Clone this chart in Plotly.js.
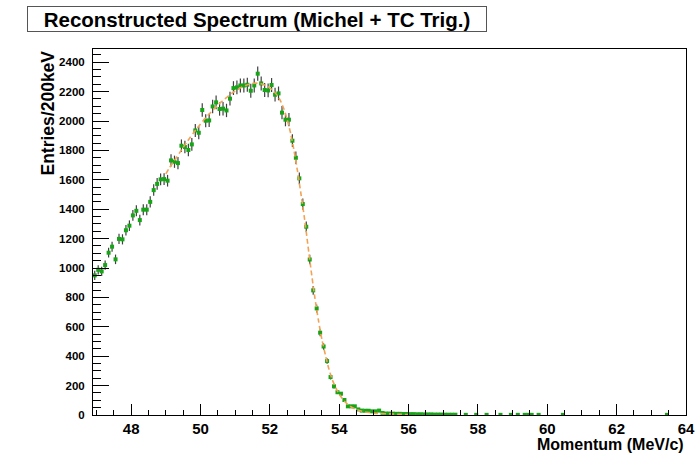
<!DOCTYPE html>
<html>
<head>
<meta charset="utf-8">
<script src="https://cdn.plot.ly/plotly-3.0.1.min.js"></script>
<style>html,body{margin:0;padding:0;background:#fff;}#chart{width:698px;height:454px;}</style>
</head>
<body>
<div id="chart"></div>
<script>
// ---- data (bin centers in MeV/c, entries per bin) ----
const momentum = [
  46.95,47.05,47.15,47.25,47.35,47.45,47.55,47.65,47.75,47.85,
  47.95,48.05,48.15,48.25,48.35,48.45,48.55,48.65,48.75,48.85,
  48.95,49.05,49.15,49.25,49.35,49.45,49.55,49.65,49.75,49.85,
  49.95,50.05,50.15,50.25,50.35,50.45,50.55,50.65,50.75,50.85,
  50.95,51.05,51.15,51.25,51.35,51.45,51.55,51.65,51.75,51.85,
  51.95,52.05,52.15,52.25,52.35,52.45,52.55,52.65,52.75,52.85,
  52.95,53.05,53.15,53.25,53.35,53.45,53.55,53.65,53.75,53.85,
  53.95,54.05,54.15,54.25,54.35,54.45,54.55,54.65,54.75,54.85,
  54.95,55.05,55.15,55.25,55.35,55.45,55.55,55.65,55.75,55.85,
  55.95,56.05,56.15,56.25,56.35,56.45,56.55,56.65,56.75,56.85,
  56.95,57.05,57.15,57.25,57.35
];
const entries = [
  950,988,977,1020,1104,1145,1059,1198,1195,1257,
  1288,1358,1389,1326,1397,1397,1450,1530,1572,1603,
  1605,1594,1732,1723,1714,1832,1823,1803,1841,1936,
  1920,2075,2002,2004,2099,2127,2082,2084,2072,2152,
  2224,2229,2242,2242,2247,2206,2242,2322,2256,2211,
  2208,2245,2179,2188,2057,2009,2009,1866,1750,1610,
  1435,1281,1058,848,725,560,466,367,258,195,
  155,145,102,59,59,59,38,30,29,29,
  25,25,30,14,10,10,9,8,8,7,
  7,6,6,5,5,4,4,4,3,3,
  3,2,2,2,2
];
// sparse tail bins (non-empty only)
const tailMomentum = [57.65,57.95,58.25,58.65,58.95,59.15,59.35,59.45,59.55,59.75,60.45,63.45];
const tailEntries  = [1,1,1,1,1,1,1,1,1,1,1,1];

// fitted curve (dashed)
const fitMomentum = [
  49.0,49.1,49.2,49.3,49.4,49.5,49.6,49.7,49.8,49.9,
  50.0,50.1,50.2,50.3,50.4,50.5,50.6,50.7,50.8,50.9,
  51.0,51.1,51.2,51.3,51.4,51.5,51.6,51.7,51.8,51.9,
  52.0,52.1,52.2,52.3,52.4,52.5,52.6,52.7,52.8,52.9,
  53.0,53.1,53.2,53.3,53.4,53.5,53.6,53.7,53.8,53.9,
  54.0,54.1,54.2,54.3,54.4,54.5,54.6,54.7,54.8,54.9,
  55.0,55.1,55.2,55.3,55.4,55.5,55.6,55.7,55.8,55.9,56.0
];
const fitEntries = [
  1640,1680,1715,1750,1785,1820,1855,1888,1920,1950,
  1980,2008,2035,2060,2085,2108,2130,2150,2170,2188,
  2204,2218,2231,2242,2250,2256,2258,2256,2250,2240,
  2225,2205,2178,2140,2085,2010,1915,1795,1655,1500,
  1335,1150,965,795,645,515,410,315,240,185,
  142,108,82,62,48,37,29,23,19,16,
  13,11,10,9,8,7,6,5,4,3,3
];

const chartTitle = "Reconstructed Spectrum (Michel + TC Trig.)";
const xTitle = "Momentum (MeV/c)";
const yTitle = "Entries/200keV";

// ---- layout geometry (pixels) ----
const W = 698, H = 454;
const M = {l: 93, r: 12, t: 49, b: 39};
const plotW = W - M.l - M.r, plotH = H - M.t - M.b;
const pxX = px => (px - M.l) / plotW;
const pxY = py => (H - M.b - py) / plotH;

const FONT = 'Liberation Sans, Arial, Helvetica, sans-serif';
const green = '#16a516';
const errColor = '#404040';

const pointStyle = {
  type: 'scatter', mode: 'markers',
  marker: {symbol: 'square', size: 4, color: green},
  error_y: {type: 'sqrt', visible: true, color: errColor, thickness: 1.2, width: 0},
  hoverinfo: 'skip', showlegend: false
};

const traces = [
  Object.assign({}, pointStyle, {x: momentum, y: entries}),
  Object.assign({}, pointStyle, {x: tailMomentum, y: tailEntries}),
  {
    type: 'scatter', mode: 'lines', x: fitMomentum, y: fitEntries,
    line: {color: '#f2a254', width: 1.6, dash: '5px,3px', shape: 'spline', smoothing: 0.6},
    hoverinfo: 'skip', showlegend: false
  }
];

const layout = {
  width: W, height: H,
  margin: {l: M.l, r: M.r, t: M.t, b: M.b, pad: 0},
  paper_bgcolor: '#ffffff', plot_bgcolor: '#ffffff',
  showlegend: false,
  xaxis: {
    range: [46.9, 64], showgrid: false, zeroline: false,
    showline: true, mirror: true, linecolor: '#000', linewidth: 1,
    ticks: 'inside', ticklen: 11, tickwidth: 1, tickcolor: '#000',
    tick0: 0, dtick: 2,
    minor: {dtick: 0.5, ticks: 'inside', ticklen: 5.5, tickwidth: 1, tickcolor: '#000', showgrid: false},
    tickfont: {family: FONT, size: 15, color: '#000', weight: 'bold'},
    ticklabelstandoff: 0
  },
  yaxis: {
    range: [0, 2490], showgrid: false, zeroline: false,
    showline: true, mirror: true, linecolor: '#000', linewidth: 1,
    ticks: 'inside', ticklen: 16, tickwidth: 1, tickcolor: '#000',
    tick0: 0, dtick: 200,
    minor: {dtick: 50, ticks: 'inside', ticklen: 8, tickwidth: 1, tickcolor: '#000', showgrid: false},
    tickfont: {family: FONT, size: 11.5, color: '#000', weight: 'bold'},
    ticklabelstandoff: 5
  },
  annotations: [
    {
      text: chartTitle, xref: 'paper', yref: 'paper',
      x: pxX(257), y: pxY(18.5), xanchor: 'center', yanchor: 'middle',
      showarrow: false, width: 458, height: 24, align: 'center', valign: 'middle',
      bgcolor: '#ffffff', bordercolor: '#555', borderwidth: 1, borderpad: 0,
      font: {family: FONT, size: 20.5, color: '#000', weight: 'bold'}
    },
    {
      text: xTitle, xref: 'paper', yref: 'paper',
      x: 1, y: pxY(444.5), xanchor: 'right', yanchor: 'middle', showarrow: false,
      font: {family: FONT, size: 16, color: '#000', weight: 'bold'}
    },
    {
      text: yTitle, xref: 'paper', yref: 'paper', textangle: -90,
      x: pxX(47), y: 1, xanchor: 'center', yanchor: 'top', showarrow: false,
      font: {family: FONT, size: 17.5, color: '#000', weight: 'bold'}
    }
  ]
};

Plotly.newPlot('chart', traces, layout, {displayModeBar: false, staticPlot: true});
</script>
</body>
</html>
